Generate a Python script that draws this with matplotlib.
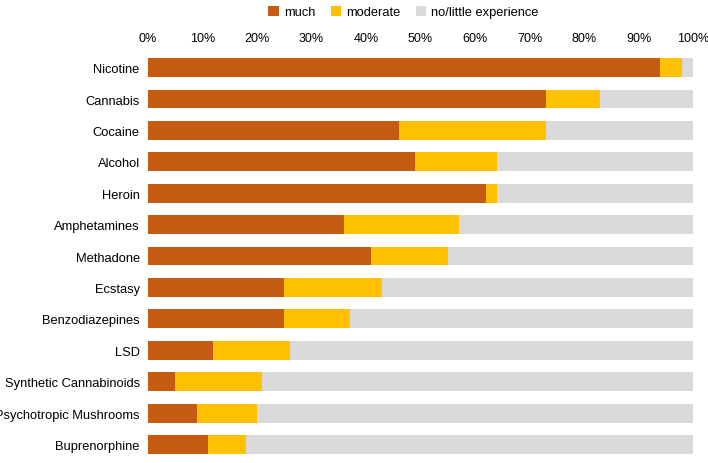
import numpy as np
import matplotlib
matplotlib.use('Agg')
import matplotlib.pyplot as plt

plt.rcParams['font.family'] = ['Liberation Sans', 'DejaVu Sans']

drugs = ['Nicotine', 'Cannabis', 'Cocaine', 'Alcohol', 'Heroin', 'Amphetamines',
         'Methadone', 'Ecstasy', 'Benzodiazepines', 'LSD', 'Synthetic Cannabinoids',
         'Psychotropic Mushrooms', 'Buprenorphine']
much = [94, 73, 46, 49, 62, 36, 41, 25, 25, 12, 5, 9, 11]
moderate = [4, 10, 27, 15, 2, 21, 14, 18, 12, 14, 16, 11, 7]
little = [100 - a - b for a, b in zip(much, moderate)]

fig = plt.figure(figsize=(7.08, 4.64), dpi=100)
ax = fig.add_axes([0.209, 0.006, 0.770, 0.880])
y = np.arange(len(drugs))
ax.barh(y, much, height=0.6, color='#C55A11', label='much')
ax.barh(y, moderate, left=much, height=0.6, color='#FFC000', label='moderate')
ax.barh(y, little, left=np.add(much, moderate), height=0.6, color='#D9D9D9',
        label='no/little experience')
ax.set_yticks(y)
ax.set_yticklabels(drugs, fontsize=9.3)
ax.set_ylim(len(drugs) - 0.5, -0.5)
ax.set_xlim(0, 100)
ax.set_xticks(range(0, 101, 10))
ax.set_xticklabels([f'{v}%' for v in range(0, 101, 10)], fontsize=9)
ax.xaxis.tick_top()
ax.tick_params(length=0, pad=6)
for s in ax.spines.values():
    s.set_visible(False)
fig.legend(loc='upper center', bbox_to_anchor=(0.57, 1.01), ncol=3, frameon=False,
           fontsize=9.3, handlelength=0.8, handleheight=0.8, columnspacing=1.2,
           handletextpad=0.4)
fig.savefig('out.png')
